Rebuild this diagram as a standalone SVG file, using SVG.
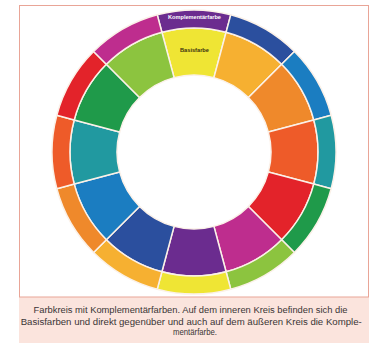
<svg xmlns="http://www.w3.org/2000/svg" width="374" height="343" viewBox="0 0 374 343">
<style>
.seg{stroke:#FBF1E8;stroke-width:1.5;stroke-linejoin:round}
.y{fill:#EFE534}.lo{fill:#F6B031}.o{fill:#EF892B}.ro{fill:#EE5B29}.r{fill:#E3232A}.m{fill:#BE2D8E}
.p{fill:#6B2C8F}.db{fill:#2B4F9E}.b{fill:#1B7DC1}.t{fill:#2199A0}.g{fill:#1F9A4A}.yg{fill:#8CC43F}
.cap{font-family:"Liberation Sans",Arial,sans-serif;font-size:8.4px;fill:#3a3535;text-anchor:middle}
.lbl{font-family:"Liberation Sans",Arial,sans-serif;font-weight:bold;text-anchor:middle}
</style>
<rect x="0" y="0" width="374" height="343" fill="#ffffff"/>
<rect x="19" y="297" width="350" height="46" fill="#FBE4DD"/>
<rect x="19.5" y="5.5" width="349" height="291.5" fill="#ffffff" stroke="#E9A597" stroke-width="1"/>
<g id="inner-ring">
<g id="inner-yellow"><path class="seg y" d="M161.91,32.23 A124,124 0 0 1 226.09,32.23 L213.93,77.62 A77,77 0 0 0 174.07,77.62Z"/></g>
<g id="inner-lightorange"><path class="seg lo" d="M226.09,32.23 A124,124 0 0 1 281.68,64.32 L248.45,97.55 A77,77 0 0 0 213.93,77.62Z"/></g>
<g id="inner-orange"><path class="seg o" d="M281.68,64.32 A124,124 0 0 1 313.77,119.91 L268.38,132.07 A77,77 0 0 0 248.45,97.55Z"/></g>
<g id="inner-redorange"><path class="seg ro" d="M313.77,119.91 A124,124 0 0 1 313.77,184.09 L268.38,171.93 A77,77 0 0 0 268.38,132.07Z"/></g>
<g id="inner-red"><path class="seg r" d="M313.77,184.09 A124,124 0 0 1 281.68,239.68 L248.45,206.45 A77,77 0 0 0 268.38,171.93Z"/></g>
<g id="inner-magenta"><path class="seg m" d="M281.68,239.68 A124,124 0 0 1 226.09,271.77 L213.93,226.38 A77,77 0 0 0 248.45,206.45Z"/></g>
<g id="inner-purple"><path class="seg p" d="M226.09,271.77 A124,124 0 0 1 161.91,271.77 L174.07,226.38 A77,77 0 0 0 213.93,226.38Z"/></g>
<g id="inner-darkblue"><path class="seg db" d="M161.91,271.77 A124,124 0 0 1 106.32,239.68 L139.55,206.45 A77,77 0 0 0 174.07,226.38Z"/></g>
<g id="inner-blue"><path class="seg b" d="M106.32,239.68 A124,124 0 0 1 74.23,184.09 L119.62,171.93 A77,77 0 0 0 139.55,206.45Z"/></g>
<g id="inner-teal"><path class="seg t" d="M74.23,184.09 A124,124 0 0 1 74.23,119.91 L119.62,132.07 A77,77 0 0 0 119.62,171.93Z"/></g>
<g id="inner-green"><path class="seg g" d="M74.23,119.91 A124,124 0 0 1 106.32,64.32 L139.55,97.55 A77,77 0 0 0 119.62,132.07Z"/></g>
<g id="inner-yellowgreen"><path class="seg yg" d="M106.32,64.32 A124,124 0 0 1 161.91,32.23 L174.07,77.62 A77,77 0 0 0 139.55,97.55Z"/></g>
</g>
<g id="outer-ring">
<g id="outer-purple"><path class="seg p" d="M157.25,14.84 A142,142 0 0 1 230.75,14.84 L226.09,32.23 A124,124 0 0 0 161.91,32.23Z"/></g>
<g id="outer-darkblue"><path class="seg db" d="M230.75,14.84 A142,142 0 0 1 294.41,51.59 L281.68,64.32 A124,124 0 0 0 226.09,32.23Z"/></g>
<g id="outer-blue"><path class="seg b" d="M294.41,51.59 A142,142 0 0 1 331.16,115.25 L313.77,119.91 A124,124 0 0 0 281.68,64.32Z"/></g>
<g id="outer-teal"><path class="seg t" d="M331.16,115.25 A142,142 0 0 1 331.16,188.75 L313.77,184.09 A124,124 0 0 0 313.77,119.91Z"/></g>
<g id="outer-green"><path class="seg g" d="M331.16,188.75 A142,142 0 0 1 294.41,252.41 L281.68,239.68 A124,124 0 0 0 313.77,184.09Z"/></g>
<g id="outer-yellowgreen"><path class="seg yg" d="M294.41,252.41 A142,142 0 0 1 230.75,289.16 L226.09,271.77 A124,124 0 0 0 281.68,239.68Z"/></g>
<g id="outer-yellow"><path class="seg y" d="M230.75,289.16 A142,142 0 0 1 157.25,289.16 L161.91,271.77 A124,124 0 0 0 226.09,271.77Z"/></g>
<g id="outer-lightorange"><path class="seg lo" d="M157.25,289.16 A142,142 0 0 1 93.59,252.41 L106.32,239.68 A124,124 0 0 0 161.91,271.77Z"/></g>
<g id="outer-orange"><path class="seg o" d="M93.59,252.41 A142,142 0 0 1 56.84,188.75 L74.23,184.09 A124,124 0 0 0 106.32,239.68Z"/></g>
<g id="outer-redorange"><path class="seg ro" d="M56.84,188.75 A142,142 0 0 1 56.84,115.25 L74.23,119.91 A124,124 0 0 0 74.23,184.09Z"/></g>
<g id="outer-red"><path class="seg r" d="M56.84,115.25 A142,142 0 0 1 93.59,51.59 L106.32,64.32 A124,124 0 0 0 74.23,119.91Z"/></g>
<g id="outer-magenta"><path class="seg m" d="M93.59,51.59 A142,142 0 0 1 157.25,14.84 L161.91,32.23 A124,124 0 0 0 106.32,64.32Z"/></g>
</g>
<g id="labels">
<text class="lbl" x="194.5" y="18.5" font-size="5.5" fill="#ffffff" textLength="53" lengthAdjust="spacingAndGlyphs">Komplementärfarbe</text>
<text class="lbl" x="194.5" y="52" font-size="5.5" fill="#3b3210" textLength="29" lengthAdjust="spacingAndGlyphs">Basisfarbe</text>
</g>
<g id="caption">
<text class="cap" x="190.5" y="313" textLength="314" lengthAdjust="spacingAndGlyphs">Farbkreis mit Komplementärfarben. Auf dem inneren Kreis befinden sich die</text>
<text class="cap" x="191.2" y="324.5" textLength="341" lengthAdjust="spacingAndGlyphs">Basisfarben und direkt gegenüber und auch auf dem äußeren Kreis die Komple-</text>
<text class="cap" x="195" y="335" textLength="44" lengthAdjust="spacingAndGlyphs">mentärfarbe.</text>
</g>
</svg>
